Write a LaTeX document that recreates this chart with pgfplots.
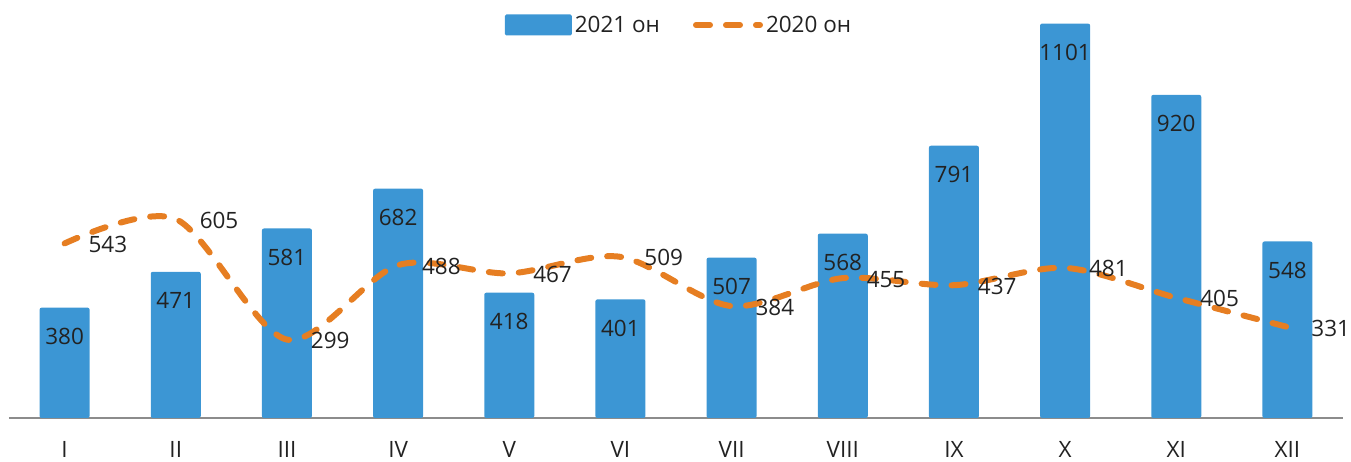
\documentclass[border=0pt]{standalone}
\usepackage{fontspec}
\setmainfont{Open Sans}
\usepackage{pgfplots}
\pgfplotsset{compat=1.18}
\definecolor{barblue}{HTML}{3C96D4}
\definecolor{lineor}{HTML}{E67E22}
\definecolor{txt}{HTML}{222222}
\begin{document}
\begin{tikzpicture}[font=\fontsize{22.5}{27}\selectfont]
\useasboundingbox (0,0) rectangle (1351pt,462pt);
\begin{axis}[
  at={(9pt,44pt)}, anchor=south west,
  scale only axis, width=1334pt, height=408pt,
  xmin=-0.5, xmax=11.5, ymin=100, ymax=1135.5,
  axis x line*=bottom, axis y line=none,
  x axis line style={-, draw=black!45, line width=1.5pt},
  xtick={0,...,11},
  xticklabels={I,II,III,IV,V,VI,VII,VIII,IX,X,XI,XII},
  xtick style={draw=none},
  xticklabel style={anchor=center, yshift=-31pt, text=txt},
  /pgf/number format/assume math mode=true,
  /pgf/number format/1000 sep={},
  legend columns=2,
  legend style={at={(0.5,1)}, anchor=center, xshift=3.5pt, yshift=-15pt, draw=none, fill=none,
    inner sep=0pt, nodes={inner sep=3pt, text=txt},
    /tikz/every even column/.append style={column sep=30pt}},
]
\addplot[ybar, bar width=50pt, fill=barblue, draw=none, rounded corners=2pt,
  nodes near coords,
  every node near coord/.append style={anchor=center, yshift=-29pt, text=txt, font=\fontsize{22.5}{27}\selectfont},
  legend image code/.code={\fill[barblue, rounded corners=1.5pt] (0pt,-10.5pt) rectangle (67pt,10.5pt);}]
  coordinates {(0,380) (1,471) (2,581) (3,682) (4,418) (5,401) (6,507) (7,568) (8,791) (9,1101) (10,920) (11,548)};
\addlegendentry{2021 он}
\addplot[smooth, lineor, line width=6pt, line cap=round, dash pattern=on 14pt off 16pt,
  nodes near coords,
  every node near coord/.append style={anchor=west, inner sep=0pt, xshift=21pt, yshift=-1pt, text=txt, font=\fontsize{22.5}{27}\selectfont},
  legend image code/.code={\draw[lineor, line width=6pt, line cap=round, dash pattern=on 14pt off 16pt] (3pt,0pt) -- (67pt,0pt);}]
  coordinates {(0,543) (1,605) (2,299) (3,488) (4,467) (5,509) (6,384) (7,455) (8,437) (9,481) (10,405) (11,331)};
\addlegendentry{2020 он}
\end{axis}
\end{tikzpicture}
\end{document}
